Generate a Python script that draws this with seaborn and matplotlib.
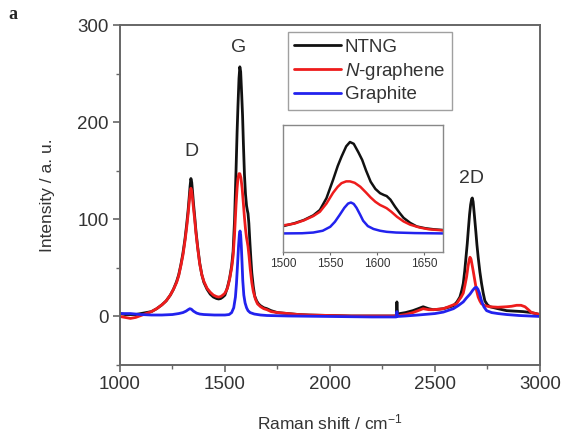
import numpy as np
import pandas as pd
import matplotlib
matplotlib.use("Agg")
import matplotlib.pyplot as plt
import seaborn as sns
from matplotlib.ticker import MultipleLocator

# ---- data (Raman shift in cm^-1, intensity a.u.) ----
ntng_x = [1000, 1025, 1050, 1075, 1100, 1125, 1150, 1175, 1200, 1220, 1240, 1255, 1270,
          1280, 1290, 1300, 1310, 1318, 1325, 1330, 1334, 1338, 1342, 1346, 1350, 1356,
          1362, 1370, 1380, 1390, 1400, 1415, 1430, 1445, 1460, 1470, 1480, 1490, 1500,
          1512, 1522, 1532, 1539, 1546, 1553, 1558, 1562, 1567, 1571, 1575, 1580, 1584,
          1588, 1593, 1598, 1603, 1607, 1610, 1614, 1619, 1624, 1628, 1635, 1642, 1651,
          1660, 1670, 1685, 1700, 1720, 1750, 1800, 1850, 1900, 2000, 2100, 2200, 2300,
          2316, 2319, 2322, 2333, 2360, 2395, 2420, 2444, 2470, 2492, 2520, 2540, 2565,
          2588, 2605, 2619, 2628, 2635, 2642, 2648, 2654, 2659, 2665, 2670, 2675, 2678,
          2682, 2688, 2695, 2700, 2706, 2714, 2722, 2730, 2738, 2750, 2762, 2800, 2841,
          2880, 2920, 2960, 3000]
ntng_y = [3, 2, 2, 2, 3, 4, 5, 8, 12, 16, 22, 28, 36,
          43, 53, 65, 80, 95, 110, 123, 134, 142, 138, 128, 117, 103,
          88, 72, 55, 43, 35, 28, 23, 20, 18.5, 18, 18.5, 20, 22,
          30, 39, 52, 67, 100, 151, 190, 216, 245, 257, 252, 228, 207,
          178, 146, 126, 114, 109, 106, 96, 76, 58, 45, 31, 21, 16,
          13, 11, 9, 8, 6, 4, 3, 2, 1.5, 1, 0.5, 0.5, 0.5,
          0.5, 15, 2, 3, 4, 6, 8, 10, 8, 7, 7.5, 8, 9.5,
          11, 15, 20, 27, 34, 47, 61, 75, 89, 105, 115, 121, 122,
          118, 104, 87, 74, 61, 46, 34, 24, 16, 12, 10, 8, 6,
          5.5, 5, 4, 2]

ngr_x = [1000, 1025, 1050, 1075, 1100, 1125, 1150, 1175, 1200, 1220, 1240, 1255, 1270,
         1280, 1290, 1300, 1310, 1318, 1325, 1330, 1334, 1338, 1342, 1346, 1350, 1356,
         1362, 1370, 1380, 1390, 1400, 1415, 1430, 1445, 1460, 1470, 1480, 1490, 1500,
         1512, 1522, 1532, 1539, 1546, 1553, 1558, 1562, 1567, 1571, 1576, 1582, 1588,
         1593, 1598, 1603, 1607, 1610, 1615, 1621, 1628, 1635, 1645, 1655, 1670, 1685,
         1700, 1720, 1750, 1800, 1850, 1900, 2000, 2100, 2200, 2300, 2330, 2360, 2395,
         2420, 2444, 2470, 2492, 2520, 2540, 2565, 2588, 2603, 2615, 2625, 2635, 2643,
         2651, 2658, 2663, 2667, 2672, 2678, 2683, 2690, 2698, 2706, 2714, 2722, 2740,
         2762, 2800, 2841, 2865, 2889, 2910, 2929, 2945, 2960, 2980, 3000]
ngr_y = [0, -1, -2, -1, 1, 3, 5, 8, 12, 16, 22, 28, 35,
         42, 52, 63, 78, 92, 106, 118, 127, 132, 129, 121, 112, 100,
         86, 71, 54, 43, 36, 29, 25, 22, 20.5, 20, 20.5, 22, 24,
         29, 38, 50, 62, 85, 115, 132, 142, 147, 147, 143, 132, 116,
         102, 90, 81, 76, 72, 62, 48, 35, 26, 18, 13, 10, 8,
         7, 5, 4, 3, 2, 1.5, 1, 0.5, 0.5, 0.5, 1, 2, 4,
         6, 8, 7, 7, 7.5, 8, 10, 12, 13, 17, 20, 24, 32,
         41, 52, 58, 61, 59, 52, 46, 37, 27, 20, 16, 13, 11,
         10, 9.5, 10, 10.5, 11.5, 11.5, 10, 7, 4, 3, 2]

gra_x = [1000, 1025, 1050, 1075, 1100, 1150, 1200, 1250, 1280, 1300, 1315, 1325, 1333,
         1340, 1350, 1365, 1380, 1400, 1450, 1500, 1520, 1532, 1542, 1550, 1555, 1560,
         1565, 1569, 1572, 1575, 1578, 1582, 1585, 1590, 1596, 1603, 1610, 1620, 1640,
         1670, 1700, 1800, 2000, 2200, 2316, 2319, 2322, 2360, 2420, 2500, 2540, 2588,
         2610, 2635, 2650, 2667, 2680, 2690, 2698, 2705, 2712, 2722, 2733, 2746, 2770,
         2800, 2841, 2900, 3000]
gra_y = [3, 3, 3, 2.5, 2, 1.5, 1.5, 2, 3, 4, 5.5, 7, 8,
         7.5, 5.5, 3.5, 2.5, 2, 1.5, 1.5, 2, 4, 9, 20, 34, 53,
         73, 85, 88, 84, 73, 53, 37, 22, 14, 9, 6, 4, 2.5,
         1.5, 1, 0.5, 0, -0.5, -0.5, 5, 0, 0.5, 1.5, 3, 4.5, 8,
         11, 15, 19, 23, 27, 29.5, 30, 28, 24, 16, 10, 6, 4,
         3, 2, 1, 0]

series_names = ["NTNG", r"$\mathit{N}$-graphene", "Graphite"]
colors = ["#111111", "#ee1c1c", "#2222ee"]
peak_labels = ["D", "G", "2D"]
peak_pos = [(1341, 170), (1567, 277), (2676, 142)]

df = pd.concat([
    pd.DataFrame({"x": ntng_x, "y": ntng_y, "s": series_names[0]}),
    pd.DataFrame({"x": ngr_x, "y": ngr_y, "s": series_names[1]}),
    pd.DataFrame({"x": gra_x, "y": gra_y, "s": series_names[2]}),
], ignore_index=True)

sns.set_style("ticks")
plt.rcParams["font.family"] = ["Liberation Sans", "DejaVu Sans"]
plt.rcParams["mathtext.fontset"] = "custom"
plt.rcParams["mathtext.rm"] = "Liberation Sans"
plt.rcParams["mathtext.it"] = "Liberation Sans:italic"

txt = "#333333"
spc = "#666666"
palette = dict(zip(series_names, colors))

fig = plt.figure(figsize=(5.63, 4.32), dpi=100)
ax = fig.add_axes([0.213, 0.155, 0.746, 0.787])
for name in series_names:
    sub = df[df["s"] == name]
    sns.lineplot(data=sub, x="x", y="y", color=palette[name], lw=2.0, ax=ax,
                 label=name, sort=True, estimator=None)

ax.set_xlim(1000, 3000)
ax.set_ylim(-50, 300)
ax.xaxis.set_major_locator(MultipleLocator(500))
ax.xaxis.set_minor_locator(MultipleLocator(250))
ax.yaxis.set_major_locator(MultipleLocator(100))
ax.yaxis.set_minor_locator(MultipleLocator(50))
ax.tick_params(which="major", direction="out", length=5, width=1.2, color=spc,
               labelsize=13.5, labelcolor=txt, pad=3)
ax.tick_params(which="minor", direction="out", length=3, width=1.0, color=spc)
for sp in ax.spines.values():
    sp.set_color(spc)
    sp.set_linewidth(1.4)
ax.set_xlabel(r"Raman shift / cm$^{-1}$", fontsize=12.5, color=txt, labelpad=14)
ax.set_ylabel("Intensity / a. u.", fontsize=12.5, color=txt, labelpad=16)

for lab, (px, py) in zip(peak_labels, peak_pos):
    ax.text(px, py, lab, ha="center", va="center", fontsize=14, color=txt)

handles, labels = ax.get_legend_handles_labels()
leg = ax.legend(handles, labels, loc="upper right", bbox_to_anchor=(0.790, 0.979),
                frameon=True, fancybox=False, edgecolor="#888888", fontsize=13.5,
                handlelength=2.5, handletextpad=0.2, borderpad=0.35, labelspacing=0.25,
                labelcolor=txt, borderaxespad=0)
leg.get_frame().set_linewidth(1.0)

fig.text(0.015, 0.955, "a", fontsize=13, fontweight="bold", family="Liberation Serif")

# inset
axi = fig.add_axes([0.503, 0.417, 0.284, 0.294])
for name in series_names:
    sub = df[(df["s"] == name) & (df["x"] >= 1480) & (df["x"] <= 1700)]
    sns.lineplot(data=sub, x="x", y="y", color=palette[name], lw=1.8, ax=axi,
                 sort=True, estimator=None)
axi.set_xlim(1500, 1670)
axi.set_ylim(-50, 305)
axi.set_xticks([1500, 1550, 1600, 1650])
axi.set_yticks([])
axi.set_xlabel("")
axi.set_ylabel("")
axi.tick_params(direction="out", length=2.5, width=0.8, color=spc, labelsize=8.5,
                labelcolor=txt, pad=2)
for sp in axi.spines.values():
    sp.set_color("#888888")
    sp.set_linewidth(1.0)

fig.savefig("out.png", dpi=100)
